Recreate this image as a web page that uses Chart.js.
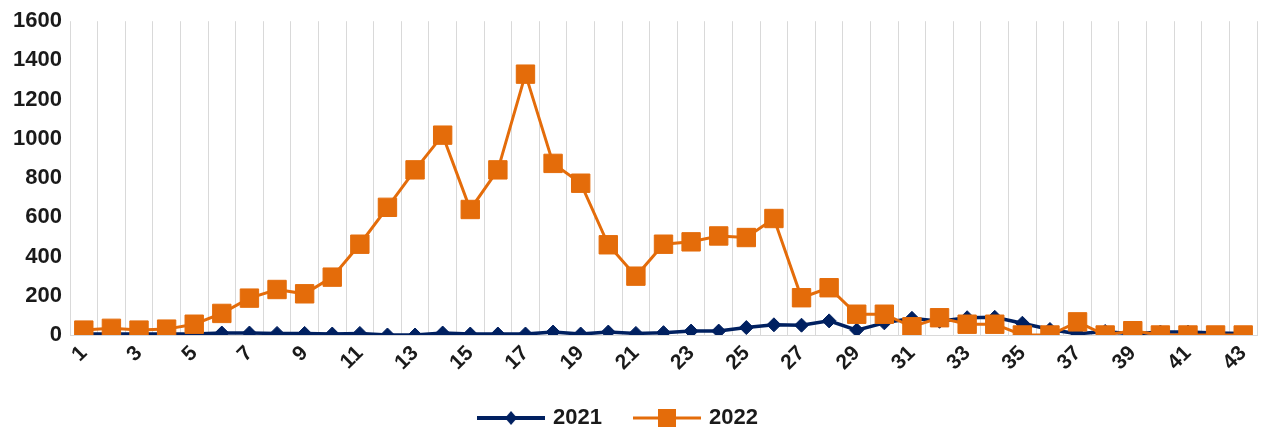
<!DOCTYPE html>
<html>
<head>
<meta charset="utf-8">
<script src="https://cdn.jsdelivr.net/npm/chart.js@4/dist/chart.umd.min.js"></script>
<style>
    html, body { margin: 0; padding: 0; background: #fff; }
    #wrap { width: 1271px; height: 430px; }
</style>
</head>
<body>
<div id="wrap"><canvas id="chart"></canvas></div>
<script>
// weeks along the x axis
const weeks = ['1','2','3','4','5','6','7','8','9','10','11','12','13','14','15','16','17','18','19','20','21','22',
    '23','24','25','26','27','28','29','30','31','32','33','34','35','36','37','38','39','40','41','42','43'];

const values2021 = [5, 5, 5, 5, 5, 10, 10, 8, 8, 5, 8, 0, 0, 10, 5, 5, 5, 15, 5, 15, 8, 12,
    20, 20, 38, 52, 50, 72, 25, 62, 85, 70, 88, 90, 60, 28, 6, 18, 5, 15, 15, 10, 8];

const values2022 = [25, 34, 25, 30, 55, 110, 188, 232, 210, 295, 463, 651, 842, 1019, 640, 842, 1330, 875, 774, 460, 300, 463,
    475, 505, 497, 594, 190, 241, 106, 106, 42, 88, 55, 55, 0, 0, 67, 0, 22, 0, 0, 0, 0];

const yTicks = [0, 200, 400, 600, 800, 1000, 1200, 1400, 1600];

const BLUE = '#002060';
const ORANGE = '#E46C0A';
const TEXT = '#1a1a1a';

// small legend swatches: line with marker in the middle
function swatch(color, lineW, drawMarker) {
    const c = document.createElement('canvas');
    c.width = 68;
    c.height = 20;
    const g = c.getContext('2d');
    g.strokeStyle = color;
    g.lineWidth = lineW;
    g.beginPath();
    g.moveTo(0, 10);
    g.lineTo(68, 10);
    g.stroke();
    g.fillStyle = color;
    drawMarker(g);
    return c;
}

const blueSwatch = swatch(BLUE, 4, g => {
    g.beginPath();
    g.moveTo(34, 3); g.lineTo(40, 10); g.lineTo(34, 17); g.lineTo(28, 10);
    g.closePath();
    g.fill();
});
const orangeSwatch = swatch(ORANGE, 3, g => {
    g.fillRect(25, 1, 18, 18);
});

const ctx = document.getElementById('chart').getContext('2d');
new Chart(ctx, {
    type: 'line',
    data: {
        labels: weeks,
        datasets: [
            {
                label: '2021',
                data: values2021,
                borderColor: BLUE,
                backgroundColor: BLUE,
                borderWidth: 3.5,
                pointStyle: 'rectRot',
                pointRadius: 7,
                pointBorderWidth: 1,
                fill: false,
                tension: 0,
                order: 1,
            },
            {
                label: '2022',
                data: values2022,
                borderColor: ORANGE,
                backgroundColor: ORANGE,
                borderWidth: 3,
                pointStyle: 'rect',
                pointRadius: 13,
                pointBorderWidth: 1,
                fill: false,
                tension: 0,
                order: 0,
            },
        ],
    },
    options: {
        responsive: true,
        maintainAspectRatio: false,
        animation: false,
        layout: {
            padding: { top: 18, right: 7, left: -26, bottom: -9 },
        },
        plugins: {
            tooltip: { enabled: false },
            legend: {
                position: 'bottom',
                labels: {
                    usePointStyle: true,
                    pointStyleWidth: 62,
                    boxHeight: 20,
                    padding: 34,
                    color: TEXT,
                    font: { family: 'Liberation Sans', size: 22, weight: 'bold' },
                    generateLabels: () => [
                        { text: '2021', pointStyle: blueSwatch, fontColor: TEXT, lineWidth: 0, datasetIndex: 0 },
                        { text: '2022', pointStyle: orangeSwatch, fontColor: TEXT, lineWidth: 0, datasetIndex: 1 },
                    ],
                },
            },
        },
        scales: {
            x: {
                type: 'category',
                offset: true,
                grid: { display: true, offset: true, color: '#d9d9d9', lineWidth: 1, drawTicks: false },
                border: { display: true, color: '#d9d9d9' },
                ticks: {
                    autoSkip: false,
                    maxRotation: 45,
                    minRotation: 45,
                    padding: 6,
                    color: TEXT,
                    font: { family: 'Liberation Sans', size: 21, weight: 'bold' },
                    callback: (val, i) => (i % 2 === 0 ? weeks[i] : ''),
                },
                afterFit: scale => { scale.height = 38; },
            },
            y: {
                min: 0,
                max: 1600,
                afterBuildTicks: scale => { scale.ticks = yTicks.map(v => ({ value: v })); },
                grid: { display: false, drawTicks: false },
                border: { display: false },
                ticks: {
                    padding: 8,
                    color: TEXT,
                    font: { family: 'Liberation Sans', size: 22, weight: 'bold' },
                    callback: v => String(v),
                },
                afterFit: scale => { scale.width = 96; },
            },
        },
    },
});
</script>
</body>
</html>
